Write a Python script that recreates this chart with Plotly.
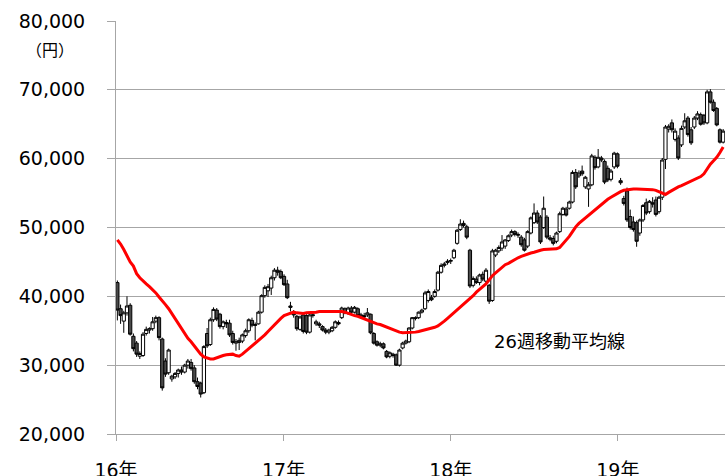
import pandas as pd
import plotly.graph_objects as go

# Weekly OHLC (thousand yen), first week of 2016 onward
open_k = [42.0,38.2,36.4,37.6,38.7,34.2,33.2,31.3,31.4,34.6,35.1,35.3,36.4,36.9,33.8,30.6,28.9,28.0,28.3,28.8,
          29.3,29.0,30.0,30.4,29.6,27.6,27.4,26.0,34.6,33.0,36.6,38.0,37.4,35.6,36.2,36.1,34.6,33.2,33.3,33.5,
          34.3,35.0,36.5,35.9,36.0,37.7,40.1,40.8,41.2,42.7,43.8,43.6,42.9,41.8,38.6,37.6,37.1,35.2,37.3,37.2,
          34.8,37.2,36.0,36.0,35.6,35.1,34.8,35.0,35.5,36.2,36.9,38.2,37.5,38.3,37.7,38.2,37.1,37.2,37.3,37.4,
          34.6,33.4,32.9,33.1,32.0,31.3,31.6,31.5,30.0,32.5,33.2,33.4,35.4,36.9,36.9,37.7,38.2,39.4,39.8,40.0,
          40.9,43.5,44.5,44.9,45.1,45.6,47.7,49.7,50.6,50.1,46.7,41.6,42.5,42.0,43.2,42.2,41.6,39.4,46.0,46.6,
          47.0,47.3,48.1,48.9,49.4,49.0,48.6,48.2,47.3,49.2,50.7,52.1,51.5,50.0,51.5,48.5,48.4,48.0,49.4,51.9,
          52.7,52.8,53.7,58.0,57.5,58.2,55.9,55.6,56.2,60.2,58.8,60.1,59.6,58.6,57.0,58.8,60.7,56.8,54.2,55.3,
          51.6,50.8,50.7,49.2,51.1,53.6,52.3,53.6,54.0,52.3,54.4,59.9,64.3,65.2,62.8,63.0,62.0,64.6,65.9,64.2,
          64.6,65.9,66.4,66.3,65.2,69.7,68.2,67.3,64.2,62.4]
high_k = [42.3,38.8,37.9,40.0,39.0,34.6,33.5,32.0,34.8,35.6,35.5,37.0,37.2,37.1,34.0,31.0,32.4,28.6,29.0,29.5,
          29.8,30.2,30.9,30.9,30.0,28.2,27.6,32.9,35.4,36.9,38.4,38.3,37.6,36.5,36.6,36.6,35.0,33.8,34.0,34.6,
          35.3,36.8,36.9,36.2,37.9,40.3,41.6,41.8,43.0,44.1,44.3,43.9,43.2,42.4,39.2,38.0,37.3,37.2,37.6,37.4,
          37.5,37.6,36.6,36.3,35.8,35.4,35.3,35.7,36.5,36.5,38.5,38.4,38.5,38.6,38.6,38.4,37.6,37.6,38.3,37.5,
          34.8,33.6,33.4,33.3,32.2,32.0,31.8,31.7,32.4,33.4,33.7,35.5,37.0,37.1,37.8,38.2,40.8,41.0,40.2,41.0,
          43.7,44.8,45.0,45.4,45.5,46.9,49.8,51.2,51.0,50.4,46.9,42.9,42.9,43.3,43.6,44.1,41.8,46.9,46.9,47.4,
          48.9,48.3,49.0,49.7,49.6,49.3,48.9,48.5,49.6,51.6,53.5,52.5,51.8,54.5,51.8,48.9,48.8,49.4,52.3,53.0,
          53.0,53.9,58.3,58.5,58.3,59.0,57.5,56.6,60.7,60.5,61.4,60.4,59.9,59.0,58.5,61.0,60.9,57.2,54.6,55.8,
          52.6,51.6,51.0,51.3,53.4,54.2,54.0,54.4,54.5,54.6,60.1,64.9,65.0,65.7,64.4,63.4,64.8,66.6,66.2,64.6,
          66.2,66.9,66.7,66.5,70.0,70.1,68.6,67.5,64.4,64.3]
low_k = [36.5,36.0,34.7,37.2,34.3,32.0,31.2,30.9,31.2,34.3,34.6,35.0,36.1,33.6,26.3,28.3,28.6,27.6,28.0,28.2,
         28.6,28.8,29.5,29.2,27.3,26.5,25.3,25.8,32.5,32.8,36.3,36.4,35.3,35.2,35.4,34.1,33.0,32.1,32.2,33.2,
         34.0,34.7,35.5,33.6,35.9,37.5,39.8,39.9,40.2,42.3,43.0,42.5,41.5,39.6,37.8,36.9,35.0,35.0,34.6,34.5,
         34.6,36.9,35.7,35.4,34.9,34.5,34.5,34.8,35.3,35.8,36.7,37.4,37.3,37.5,37.5,37.0,36.8,36.8,37.0,34.5,
         33.0,32.7,32.6,32.3,31.0,31.0,31.1,29.9,29.8,32.3,33.0,33.2,35.2,36.5,36.7,37.5,38.0,39.1,39.3,39.8,
         40.7,43.3,44.2,44.6,44.7,45.4,47.5,49.5,50.0,48.3,41.2,41.3,41.8,41.6,42.2,41.8,38.9,39.2,45.7,46.3,
         46.6,46.9,47.9,48.6,48.7,48.5,47.2,46.5,47.0,49.0,50.5,50.5,47.6,49.8,48.3,48.0,47.4,47.7,49.2,51.7,
         51.6,52.6,53.5,55.6,57.2,57.5,55.6,53.0,56.0,58.4,58.6,59.5,56.3,56.6,56.7,58.5,58.6,56.2,53.2,50.8,
         49.7,49.4,47.2,48.8,50.8,51.8,52.0,52.9,51.6,52.0,54.0,58.5,63.8,63.8,62.5,59.8,61.7,64.3,63.2,62.0,
         64.3,65.6,64.8,64.9,65.0,68.0,66.8,64.7,62.2,62.2]
close_k = [38.0,37.2,37.6,38.6,34.5,32.4,31.6,31.7,34.5,35.2,35.3,36.3,36.9,34.0,26.7,28.7,32.2,28.4,28.8,29.3,
           29.0,30.0,30.6,29.5,27.6,26.9,25.8,32.7,32.8,36.6,38.1,36.7,35.6,36.3,36.0,34.4,33.3,33.4,33.6,34.4,
           35.0,36.6,35.8,35.8,37.7,40.1,41.3,41.4,42.7,43.8,43.5,42.7,41.7,39.8,38.4,37.3,35.3,37.0,34.9,34.8,
           37.3,37.3,36.3,35.8,35.1,34.8,35.1,35.5,36.3,36.0,38.3,37.6,38.3,37.7,38.4,37.2,37.3,37.0,37.6,34.7,
           33.2,32.9,33.1,32.5,31.2,31.8,31.4,30.0,32.2,33.2,33.5,35.4,36.9,36.8,37.7,38.0,40.5,40.7,39.5,40.7,
           43.5,44.5,44.7,45.1,45.2,46.7,49.6,50.5,50.3,48.6,41.5,42.6,42.0,43.1,42.5,43.8,39.3,46.6,46.7,47.1,
           47.9,48.2,48.8,49.4,49.0,48.9,47.5,46.7,49.4,51.4,52.1,50.8,47.9,52.8,48.6,48.3,47.7,49.2,52.0,52.8,
           51.8,53.7,58.0,55.9,57.9,57.8,57.3,56.2,60.4,58.7,60.2,59.8,56.6,56.9,58.2,60.8,58.9,56.5,53.5,51.1,
           50.0,49.7,48.0,51.1,53.2,52.1,53.8,53.4,51.9,54.4,59.8,64.6,64.7,64.2,64.0,60.1,64.4,65.5,63.5,62.3,
           65.9,66.5,65.0,65.2,69.7,68.2,67.0,64.9,62.4,64.0]
# 26-week moving average (thousand yen)
ma26_k = [48.2,47.6,46.8,45.9,45.0,44.4,43.3,42.7,42.2,41.8,41.4,41.0,40.5,39.9,39.4,38.8,38.2,37.5,36.8,36.1,
          35.3,34.6,33.9,33.4,32.8,32.2,31.6,31.2,31.0,30.9,30.9,31.1,31.3,31.4,31.5,31.6,31.6,31.4,31.3,31.6,
          32.0,32.3,32.7,33.1,33.5,33.9,34.4,34.9,35.4,35.8,36.3,36.8,37.2,37.4,37.6,37.7,37.6,37.5,37.5,37.6,
          37.6,37.7,37.7,37.8,37.8,37.8,37.9,37.9,37.9,37.9,37.8,37.7,37.5,37.4,37.2,37.1,36.9,36.8,36.6,36.4,
          36.2,36.0,35.9,35.7,35.5,35.4,35.2,35.0,34.8,34.7,34.7,34.7,34.8,34.8,34.9,35.0,35.1,35.2,35.3,35.5,
          35.7,36.0,36.4,36.8,37.2,37.6,38.1,38.5,38.9,39.3,39.7,40.1,40.6,41.0,41.4,41.8,42.4,43.0,43.4,43.8,
          44.2,44.6,44.8,45.1,45.3,45.6,45.8,46.0,46.2,46.3,46.4,46.6,46.7,46.8,46.8,46.8,46.8,46.9,47.1,47.6,
          48.1,48.7,49.4,50.1,50.6,51.0,51.3,51.7,52.1,52.6,53.0,53.3,53.7,54.1,54.4,54.7,55.0,55.2,55.4,55.5,
          55.6,55.6,55.6,55.6,55.6,55.6,55.6,55.5,55.4,55.2,55.0,54.8,55.1,55.4,55.7,55.9,56.1,56.3,56.5,56.7,
          56.9,57.2,57.4,57.8,58.5,59.2,59.7,60.2,60.9,61.7]

year_tick_dates = ["2016-01-01", "2017-01-01", "2018-01-01", "2019-01-01"]
year_tick_labels = ["16年", "17年", "18年", "19年"]
y_tick_values = [20000, 30000, 40000, 50000, 60000, 70000, 80000]

weeks = pd.date_range("2016-01-04", periods=len(close_k), freq="7D")
to_yen = lambda arr: [v * 1000 for v in arr]

font_main = "DejaVu Sans, Noto Sans CJK JP, sans-serif"
grid_col = "#a6a6a6"

fig = go.Figure()
fig.add_trace(go.Candlestick(
    x=weeks, open=to_yen(open_k), high=to_yen(high_k), low=to_yen(low_k), close=to_yen(close_k),
    increasing=dict(line=dict(color="#000000", width=1), fillcolor="#ffffff"),
    decreasing=dict(line=dict(color="#000000", width=1), fillcolor="#4a4a4a"),
    whiskerwidth=0, showlegend=False, hoverinfo="skip"))
fig.add_trace(go.Scatter(
    x=weeks, y=to_yen(ma26_k), mode="lines",
    line=dict(color="#ff0000", width=3), showlegend=False, hoverinfo="skip"))

fig.update_layout(
    width=725, height=476,
    margin=dict(l=116, r=0, t=21, b=42),
    paper_bgcolor="white", plot_bgcolor="white",
    font=dict(family=font_main, size=19, color="#000000"),
    showlegend=False,
    boxgap=0.0, boxgroupgap=0.0,
    xaxis=dict(
        type="date", range=["2016-01-01", "2019-08-23"], automargin=False,
        rangeslider=dict(visible=False),
        tickvals=year_tick_dates, ticktext=year_tick_labels,
        showgrid=False, showline=True, linecolor=grid_col, linewidth=1,
        ticks="outside", ticklen=6, tickcolor=grid_col,
        tickfont=dict(size=19, color="#000000"), ticklabelstandoff=13, zeroline=False),
    yaxis=dict(
        range=[20000, 80000], tickvals=y_tick_values, tickformat=",d", automargin=False,
        showgrid=True, gridcolor=grid_col, gridwidth=1,
        showline=True, linecolor=grid_col, linewidth=1,
        ticks="outside", ticklen=8, tickcolor=grid_col,
        tickfont=dict(size=19, color="#000000"), ticklabelstandoff=18, zeroline=False),
    annotations=[
        dict(text="（円）", xref="paper", yref="paper", x=-0.108, y=0.932,
             showarrow=False, font=dict(size=16, family="Noto Sans CJK JP", color="#000000"),
             xanchor="center", yanchor="middle"),
        dict(text="26週移動平均線", xref="paper", yref="y", x=0.729, y=33400,
             showarrow=False, font=dict(size=18, family=font_main, color="#000000"),
             xanchor="center", yanchor="middle"),
    ],
)

fig.write_html(
    "out.html",
    config={"displayModeBar": False},
    post_script="document.body.style.margin='0';document.body.style.overflow='hidden';"
                "document.documentElement.style.overflow='hidden';")
